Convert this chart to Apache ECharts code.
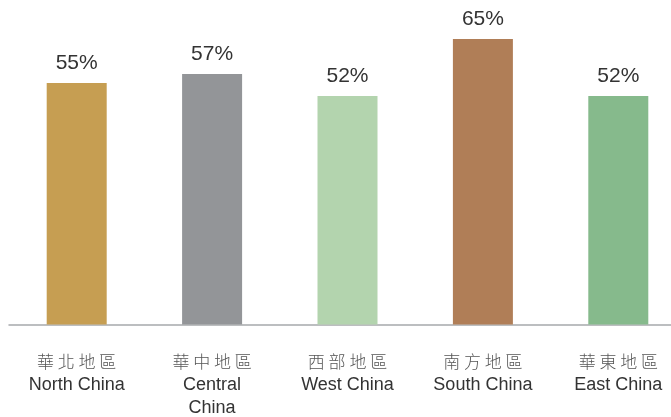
<!DOCTYPE html>
<html>
<head>
<meta charset="utf-8">
<script src="https://cdn.jsdelivr.net/npm/echarts@6/dist/echarts.min.js"></script>
<style>
  html, body { margin: 0; padding: 0; background: #fff; overflow: hidden; }
  #wrap { width: 671px; height: 417px; overflow: hidden; }
  #chart { width: 686px; height: 417px; }
</style>
</head>
<body>
<div id="wrap"><div id="chart"></div></div>
<script>
// Regional shares by area of China
const regionsCn = ['華北地區', '華中地區', '西部地區', '南方地區', '華東地區'];
const regionsEn = ['North China', 'Central\nChina', 'West China', 'South China', 'East China'];
const shares = [55, 57, 52, 65, 52];
const barColors = ['#C69E52', '#939598', '#B3D4AE', '#B07E57', '#86BA8C'];

const chart = echarts.init(document.getElementById('chart'), null, { renderer: 'canvas' });

const categories = regionsCn.map((cn, i) => ({ cn: cn, en: regionsEn[i] }));

chart.setOption({
  backgroundColor: '#ffffff',
  animation: false,
  grid: { left: 9, right: 0, top: 17, bottom: 92, containLabel: false },
  xAxis: {
    type: 'category',
    data: categories.map((c, i) => String(i)),
    axisLine: { lineStyle: { color: '#A7A9AC', width: 1.5 } },
    axisTick: { show: false },
    axisLabel: {
      margin: 26,
      interval: 0,
      verticalAlign: 'top',
      formatter: function (v) {
        const c = categories[+v];
        const cn = '{cn|' + c.cn.split('').join(' ') + '}';
        const en = c.en.split('\n').map(s => '{en|' + s + '}').join('\n');
        return cn + '\n' + en;
      },
      rich: {
        cn: { fontFamily: '"Noto Sans CJK TC", sans-serif', fontSize: 17, color: '#555555', lineHeight: 23, fontWeight: 300 },
        en: { fontFamily: 'Liberation Sans, Arial, sans-serif', fontSize: 18, color: '#333333', lineHeight: 23 }
      }
    }
  },
  yAxis: {
    type: 'value',
    min: 0,
    max: 70,
    show: false,
    splitLine: { show: false }
  },
  series: [{
    type: 'bar',
    barWidth: 60,
    data: shares.map((v, i) => ({ value: v, itemStyle: { color: barColors[i] } })),
    label: {
      show: true,
      position: 'top',
      distance: 9,
      formatter: '{c}%',
      fontFamily: 'Liberation Sans, Arial, sans-serif',
      fontSize: 21,
      color: '#333333'
    }
  }]
});
</script>
</body>
</html>
